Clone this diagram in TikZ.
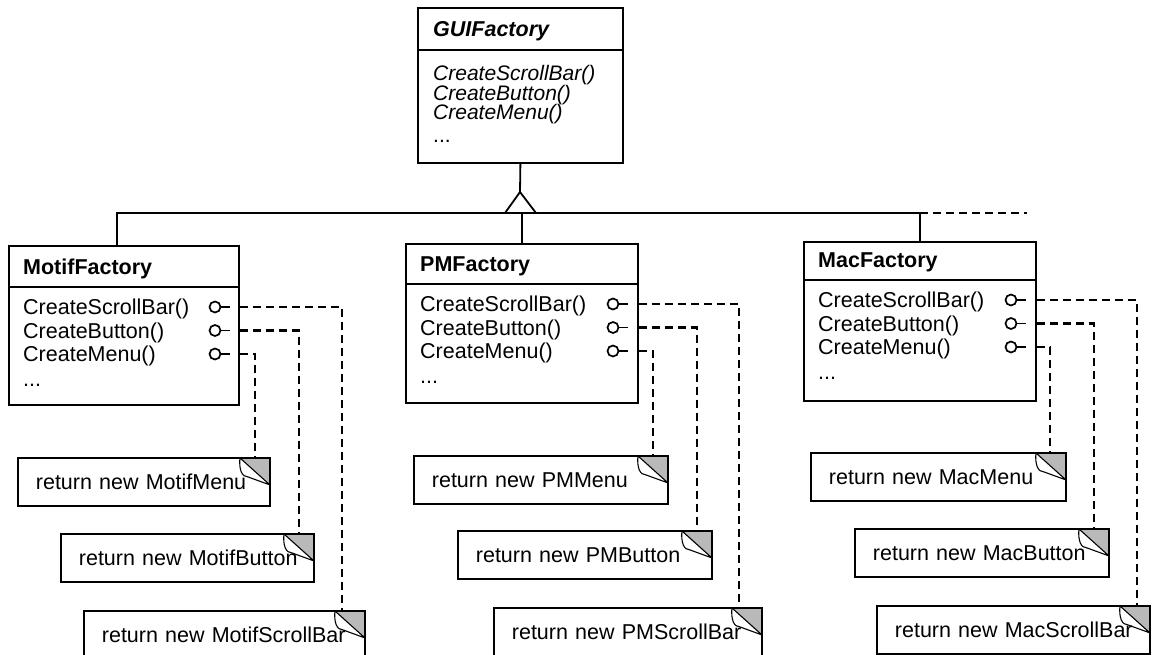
\documentclass[tikz,border=0pt]{standalone}
\usepackage{fontspec}
\setmainfont{Liberation Sans}
\usetikzlibrary{calc}
\newcommand\diafont{\fontsize{21.5}{24}\selectfont}
\newcommand\guifont{\fontsize{21}{23}\selectfont}
\tikzset{
  cls/.style={draw, line width=1.8pt, inner sep=0pt, anchor=north west},
  sep/.style={line width=1.8pt},
  txt/.style={anchor=west, inner sep=0pt, text height=15.5pt, text depth=0pt, font=\diafont},
  ttl/.style={txt, font=\diafont\bfseries},
  ital/.style={anchor=west, inner sep=0pt, text height=14pt, text depth=0pt, font=\guifont\itshape},
  ittl/.style={txt, font=\diafont\bfseries\itshape},
  rel/.style={line width=1.8pt},
  dl/.style={line width=2.1pt, dash pattern=on 8pt off 5pt},
  knob/.style={circle, draw, line width=1.7pt, minimum size=11pt, inner sep=0pt},
  note/.style={draw, line width=1.8pt, anchor=north west, minimum height=48pt,
    inner xsep=18pt, inner ysep=0pt, text height=15.5pt, text depth=0pt,
    align=left, text width=#1, font=\diafont,
    path picture={
      \coordinate (ne) at (path picture bounding box.north east);
      \fill[gray!55] ([xshift=-30pt]ne) -- (ne) -- ([yshift=-27pt]ne) -- cycle;
      \draw[line width=1.1pt, fill=white] ([xshift=-30pt]ne)
        .. controls ([xshift=-31pt,yshift=-12pt]ne) and ([xshift=-28pt,yshift=-19pt]ne)
        .. ([xshift=-22pt,yshift=-19pt]ne) -- ([yshift=-27pt]ne) -- cycle;
    }}
}
\begin{document}
\begin{tikzpicture}[x=1pt, y=-1pt]
\fill[white] (0,0) rectangle (1155,655);
\useasboundingbox (0,0) rectangle (1155,655);

% ---------- GUIFactory ----------
\node[cls, minimum width=205pt, minimum height=155pt] (gui) at (417,7) {};
\draw[sep] ([yshift=-43pt]gui.north west) -- ([yshift=-43pt]gui.north east);
\node[ittl] (guiT) at (433,29) {GUIFactory};
\node[ital] (guiM1) at (433,74) {CreateScrollBar()};
\node[ital] (guiM2) at (433,93.5) {CreateButton()};
\node[ital] (guiM3) at (433,113) {CreateMenu()};
\node[ital, font=\guifont] (guiD) at (433,136) {...};

% ---------- MotifFactory ----------
\node[cls, minimum width=230pt, minimum height=159pt] (motif) at (8,245) {};
\draw[sep] ([yshift=-42pt]motif.north west) -- ([yshift=-42pt]motif.north east);
\node[ttl] (motifT) at (23,267) {MotifFactory};
\node[txt] (m1s) at (23,307) {CreateScrollBar()};
\node[txt] (m1b) at (23,330.5) {CreateButton()};
\node[txt] (m1m) at (23,354) {CreateMenu()};
\node[txt] (m1d) at (23,379) {...};
\node[knob] (c1s) at (215,307) {};
\node[knob] (c1b) at (215,330.5) {};
\node[knob] (c1m) at (215,354) {};

% ---------- PMFactory ----------
\node[cls, minimum width=232pt, minimum height=159pt] (pm) at (405,243) {};
\draw[sep] ([yshift=-41pt]pm.north west) -- ([yshift=-41pt]pm.north east);
\node[ttl] (pmT) at (420,264) {PMFactory};
\node[txt] (m2s) at (420,304) {CreateScrollBar()};
\node[txt] (m2b) at (420,327.5) {CreateButton()};
\node[txt] (m2m) at (420,351) {CreateMenu()};
\node[txt] (m2d) at (420,376) {...};
\node[knob] (c2s) at (613,304) {};
\node[knob] (c2b) at (613,327.5) {};
\node[knob] (c2m) at (613,351) {};

% ---------- MacFactory ----------
\node[cls, minimum width=232pt, minimum height=159pt] (mac) at (803,241) {};
\draw[sep] ([yshift=-39pt]mac.north west) -- ([yshift=-39pt]mac.north east);
\node[ttl] (macT) at (818,260) {MacFactory};
\node[txt] (m3s) at (818,300) {CreateScrollBar()};
\node[txt] (m3b) at (818,323.5) {CreateButton()};
\node[txt] (m3m) at (818,347) {CreateMenu()};
\node[txt] (m3d) at (818,372) {...};
\node[knob] (c3s) at (1011,300) {};
\node[knob] (c3b) at (1011,323.5) {};
\node[knob] (c3m) at (1011,347) {};

% ---------- inheritance ----------
\coordinate (apex) at (520,192);
\coordinate (bus) at (0,213);
\coordinate (busend) at (1027,213);
\draw[rel] (gui.south) -- (apex);
\draw[rel] ([xshift=-7pt]motif.north) -- ([xshift=-7pt]motif.north |- bus) -- (mac.north |- bus) -- (mac.north);
\draw[rel] (pm.north) -- (pm.north |- bus);
\draw[rel, fill=white] (apex) -- (505,213) -- (536,213) -- cycle;
\draw[dl] (mac.north |- bus) -- (busend);

% ---------- notes ----------
\node[note=216pt] (n1m) at (17,457) {\mbox{return new MotifMenu}};
\node[note=217pt] (n1b) at (60,533) {\mbox{return new MotifButton}};
\node[note=245pt] (n1s) at (83,610) {\mbox{return new MotifScrollBar}};
\node[note=218pt] (n2m) at (413,455) {\mbox{return new PMMenu}};
\node[note=218pt] (n2b) at (457,530) {\mbox{return new PMButton}};
\node[note=232pt] (n2s) at (493,607) {\mbox{return new PMScrollBar}};
\node[note=219pt] (n3m) at (810,452) {\mbox{return new MacMenu}};
\node[note=218pt] (n3b) at (854,528) {\mbox{return new MacButton}};
\node[note=237pt] (n3s) at (876,605) {\mbox{return new MacScrollBar}};

% ---------- stubs and dashed links ----------
\foreach \c in {c1s,c1b,c1m,c2s,c2b,c2m,c3s,c3b,c3m}
  \draw[rel] (\c.east) -- ++(9,0);

\draw[dl] (motif.east |- c1s) -| ([xshift=-24pt]n1s.north east);
\draw[dl] (motif.east |- c1b) -| ([xshift=-16pt]n1b.north east);
\draw[dl] (motif.east |- c1m) -| ([xshift=-16pt]n1m.north east);
\draw[dl] (pm.east |- c2s) -| ([xshift=-24pt]n2s.north east);
\draw[dl] (pm.east |- c2b) -| ([xshift=-16pt]n2b.north east);
\draw[dl] (pm.east |- c2m) -| ([xshift=-16pt]n2m.north east);
\draw[dl] (mac.east |- c3s) -| ([xshift=-14pt]n3s.north east);
\draw[dl] (mac.east |- c3b) -| ([xshift=-16pt]n3b.north east);
\draw[dl] (mac.east |- c3m) -| ([xshift=-17pt]n3m.north east);
\end{tikzpicture}
\end{document}
